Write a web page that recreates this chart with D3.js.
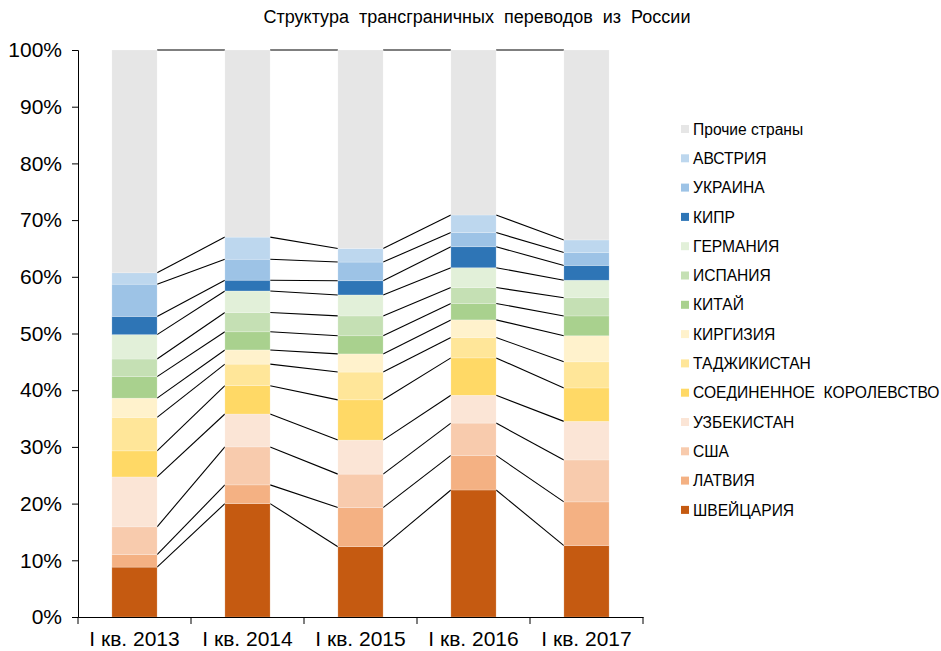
<!DOCTYPE html>
<html>
<head>
<meta charset="utf-8">
<script src="https://cdn.jsdelivr.net/npm/d3@7"></script>
<style>
  body { margin: 0; background: #fff; }
  text { font-family: "Liberation Sans", Arial, sans-serif; fill: #000; }
</style>
</head>
<body>
<script>
// quarters
const categories = ["I кв. 2013", "I кв. 2014", "I кв. 2015", "I кв. 2016", "I кв. 2017"];

// series from bottom to top, shares in %
const seriesNames = ["ШВЕЙЦАРИЯ", "ЛАТВИЯ", "США", "УЗБЕКИСТАН", "СОЕДИНЕННОЕ  КОРОЛЕВСТВО",
  "ТАДЖИКИСТАН", "КИРГИЗИЯ", "КИТАЙ", "ИСПАНИЯ", "ГЕРМАНИЯ", "КИПР", "УКРАИНА", "АВСТРИЯ", "Прочие страны"];
const seriesColors = ["#c55a11", "#f4b183", "#f8cbad", "#fbe5d6", "#ffd966",
  "#ffe699", "#fff2cc", "#a9d18e", "#c5e0b4", "#e2f0d9", "#2e75b6", "#9dc3e6", "#bdd7ee", "#e6e6e6"];

const swiss     = [8.8, 20.0, 12.4, 22.4, 12.6];
const latvia    = [2.2, 3.3, 6.9, 6.1, 7.7];
const usa       = [4.9, 6.7, 5.9, 5.7, 7.4];
const uzbek     = [8.8, 5.8, 6.0, 4.9, 6.8];
const uk        = [4.6, 5.0, 7.1, 6.6, 5.9];
const tajik     = [5.9, 3.8, 4.9, 3.6, 4.6];
const kyrgyz    = [3.4, 2.5, 3.2, 3.1, 4.6];
const china     = [3.8, 3.2, 3.2, 2.9, 3.5];
const spain     = [3.1, 3.4, 3.5, 2.8, 3.2];
const germany   = [4.3, 3.8, 3.7, 3.5, 3.1];
const cyprus    = [3.2, 1.9, 2.5, 3.7, 2.6];
const ukraine   = [5.7, 3.7, 3.3, 2.5, 2.3];
const austria   = [2.0, 3.9, 2.4, 3.1, 2.2];
const others    = [39.3, 33.0, 35.0, 29.1, 33.5];

const yTicks = [0, 10, 20, 30, 40, 50, 60, 70, 80, 90, 100];

const allSeries = [swiss, latvia, usa, uzbek, uk, tajik, kyrgyz, china, spain, germany, cyprus, ukraine, austria, others];

const W = 941, H = 651;
const margin = {left: 78, right: 298, top: 50, bottom: 34};
const width = W - margin.left - margin.right;
const height = H - margin.top - margin.bottom;

const svg = d3.select("body").append("svg")
  .attr("width", W)
  .attr("height", H);

svg.append("text")
  .attr("x", 477)
  .attr("y", 23)
  .attr("text-anchor", "middle")
  .style("font-size", "18px")
  .style("word-spacing", "5px")
  .text("Структура трансграничных переводов из России");

const g = svg.append("g")
  .attr("transform", "translate(" + margin.left + "," + margin.top + ")");

const x = d3.scaleBand()
  .domain(categories)
  .range([0, width])
  .paddingInner(0.6)
  .paddingOuter(0.3);

const y = d3.scaleLinear()
  .domain([0, 100])
  .range([height, 0]);

// build table for stack
const table = categories.map((c, i) => {
  const row = {cat: c};
  seriesNames.forEach((s, j) => { row[s] = allSeries[j][i]; });
  return row;
});
const stacked = d3.stack().keys(seriesNames)(table);

// connector lines between neighbouring bars
const links = [];
stacked.forEach(layer => {
  for (let i = 0; i < categories.length - 1; i++) {
    links.push({a: categories[i], b: categories[i + 1], v1: layer[i][1], v2: layer[i + 1][1]});
  }
});
g.selectAll(".link")
  .data(links)
  .enter().append("line")
  .attr("class", "link")
  .attr("x1", d => x(d.a) + x.bandwidth())
  .attr("x2", d => x(d.b))
  .attr("y1", d => y(d.v1))
  .attr("y2", d => y(d.v2))
  .attr("stroke", "#000")
  .attr("stroke-width", 1.1);

const layers = g.selectAll(".layer")
  .data(stacked)
  .enter().append("g")
  .attr("class", "layer")
  .attr("fill", (d, i) => seriesColors[i]);

layers.selectAll("rect")
  .data(d => d)
  .enter().append("rect")
  .attr("x", d => x(d.data.cat))
  .attr("y", d => y(d[1]))
  .attr("width", x.bandwidth())
  .attr("height", d => y(d[0]) - y(d[1]))
  .attr("stroke", "#fff")
  .attr("stroke-opacity", 0.35)
  .attr("stroke-width", 0.6);

// y axis
const yAxis = d3.axisLeft(y)
  .tickValues(yTicks)
  .tickFormat(d => d + "%")
  .tickSize(6)
  .tickPadding(10);
const ya = g.append("g").attr("class", "y-axis").call(yAxis);
ya.select(".domain").attr("stroke", "#000");
ya.selectAll(".tick line").attr("stroke", "#000");
ya.selectAll("text").style("font-size", "21px").attr("fill", "#000");

// x axis
const xAxis = d3.axisBottom(x).tickSize(0).tickPadding(14);
const xa = g.append("g")
  .attr("class", "x-axis")
  .attr("transform", "translate(0," + height + ")")
  .call(xAxis);
xa.select(".domain").attr("stroke", "#000");
xa.selectAll("text").style("font-size", "21px").attr("fill", "#000");

// tick marks at band edges
const edges = categories.map(c => x(c) - x.step() * x.paddingInner() / 2);
edges.push(width);
xa.selectAll(".edge")
  .data(edges)
  .enter().append("line")
  .attr("class", "edge")
  .attr("x1", d => d).attr("x2", d => d)
  .attr("y1", 0).attr("y2", 7)
  .attr("stroke", "#000");

// legend, top row = last series
const legend = svg.append("g").attr("transform", "translate(681,129)");
const legendOrder = seriesNames.map((s, i) => i).reverse();
const items = legend.selectAll(".item")
  .data(legendOrder)
  .enter().append("g")
  .attr("class", "item")
  .attr("transform", (d, i) => "translate(0," + (i * 29.3) + ")");
items.append("rect")
  .attr("x", 0).attr("y", -4)
  .attr("width", 8).attr("height", 8)
  .attr("fill", d => seriesColors[d]);
items.append("text")
  .attr("x", 12)
  .attr("y", 0)
  .attr("dy", "0.36em")
  .style("font-size", "15.6px")
  .style("white-space", "pre")
  .text(d => seriesNames[d]);
</script>
</body>
</html>
